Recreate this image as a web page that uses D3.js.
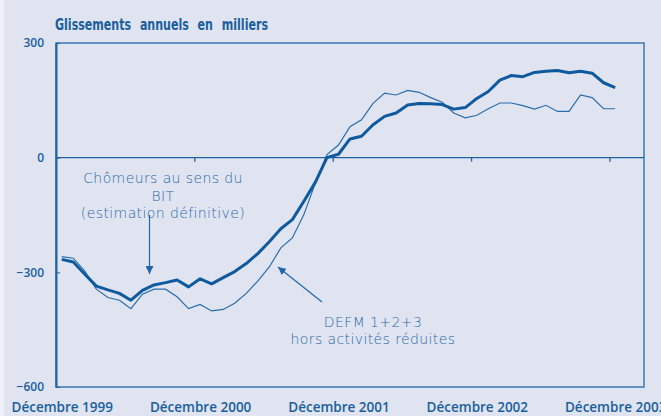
<!DOCTYPE html>
<html>
<head>
<meta charset="utf-8">
<script src="https://cdn.jsdelivr.net/npm/d3@7"></script>
<style>
  body { margin: 0; background: #dfe4f0; }
  svg { display: block; }
</style>
</head>
<body>
<svg id="chart"></svg>
<script>
const width = 661;
const height = 416;
const margin = { top: 43, right: 16, bottom: 28, left: 56 };

// monthly points, Dec 1999 -> Dec 2003
const bit = [-266, -273, -305, -336, -346, -355, -373, -347, -333, -327, -320, -338,
             -317, -330, -314, -298, -277, -251, -220, -186, -162, -114, -64, 0,
             9, 49, 56, 86, 108, 117, 138, 142, 141, 139, 127, 131,
             155, 173, 203, 215, 212, 223, 226, 228, 222, 226, 221, 196, 183];
const defm = [-259, -263, -297, -344, -366, -373, -395, -357, -344, -344, -364, -395,
              -384, -401, -397, -381, -355, -323, -286, -236, -210, -149, -66, 8,
              33, 81, 99, 142, 169, 164, 176, 171, 157, 145, 117, 104,
              111, 128, 143, 143, 136, 127, 137, 121, 121, 164, 157, 128, 128];
const yTicks = [300, 0, -300, -600];
const xLabelIdx = [0, 12, 24, 36, 48];
const xLabels = ["Décembre 1999", "Décembre 2000", "Décembre 2001", "Décembre 2002", "Décembre 2003"];
const xTickIdx = [11.5, 23.5, 35.5, 47.5];

const blue = "#1a5e9e";

const svg = d3.select("#chart")
  .attr("width", width)
  .attr("height", height);

svg.append("rect").attr("width", width).attr("height", height).attr("fill", "#dfe4f0");
svg.append("rect").attr("width", 4).attr("height", height).attr("fill", "#eef1f7");

const innerW = width - margin.left - margin.right;
const innerH = height - margin.top - margin.bottom;

const g = svg.append("g")
  .attr("transform", "translate(" + margin.left + "," + margin.top + ")");

const x = d3.scaleLinear().domain([-0.5, 50.5]).range([0, innerW - 1]);
const y = d3.scaleLinear().domain([-600, 300]).range([innerH - 1, 0]);

// title
svg.append("text")
  .attr("x", 55)
  .attr("y", 30)
  .attr("fill", blue)
  .style("font-family", "'Liberation Sans Narrow', 'DejaVu Sans Condensed', sans-serif")
  .style("font-weight", "bold")
  .style("font-size", "15px")
  .style("word-spacing", "6px")
  .attr("textLength", 213)
  .attr("lengthAdjust", "spacingAndGlyphs")
  .text("Glissements annuels en milliers");

// frame
g.append("rect")
  .attr("x", 0).attr("y", y(300))
  .attr("width", x(50.5)).attr("height", y(-600) - y(300))
  .attr("fill", "none")
  .attr("stroke", "#2366a8")
  .attr("stroke-width", 1.3);

// y axis
const yAxis = d3.axisLeft(y).tickValues(yTicks).tickSizeInner(-4).tickSizeOuter(0).tickPadding(12);
g.append("g")
  .call(yAxis)
  .call(s => s.select(".domain").attr("stroke", "#1f62a6").attr("stroke-width", 2))
  .call(s => s.selectAll(".tick line").attr("stroke", "#1f62a6"))
  .call(s => s.selectAll(".tick text")
    .attr("fill", blue)
    .style("font-family", "'Open Sans', sans-serif")
    .style("font-weight", "600")
    .style("font-size", "12px"));

// zero line + year ticks
g.append("line")
  .attr("x1", 0).attr("x2", x(50.5))
  .attr("y1", y(0)).attr("y2", y(0))
  .attr("stroke", "#1f62a6").attr("stroke-width", 1.3);

g.append("g")
  .attr("transform", "translate(0," + y(0) + ")")
  .call(d3.axisBottom(x).tickValues(xTickIdx).tickSize(4).tickFormat(""))
  .call(s => s.select(".domain").remove())
  .call(s => s.selectAll(".tick line").attr("stroke", "#1f62a6").attr("stroke-width", 1.3));

// bottom labels
g.append("g")
  .attr("transform", "translate(0," + y(-600) + ")")
  .call(d3.axisBottom(x).tickValues(xLabelIdx).tickSize(0).tickPadding(15)
    .tickFormat((d, i) => xLabels[i]))
  .call(s => s.select(".domain").remove())
  .call(s => s.selectAll(".tick text")
    .attr("fill", blue)
    .style("font-family", "'Open Sans', sans-serif")
    .style("font-weight", "600")
    .style("font-size", "13.5px"));

// lines
const line = d3.line().x((d, i) => x(i)).y(d => y(d));

g.append("path")
  .datum(defm)
  .attr("d", line)
  .attr("fill", "none")
  .attr("stroke", "#2b6cab")
  .attr("stroke-width", 1.2);

g.append("path")
  .datum(bit)
  .attr("d", line)
  .attr("fill", "none")
  .attr("stroke", "#0f5a9e")
  .attr("stroke-width", 3)
  .attr("stroke-linejoin", "round");

// annotations
const defs = svg.append("defs");
defs.append("marker")
  .attr("id", "arrow")
  .attr("viewBox", "0 0 10 10")
  .attr("refX", 10).attr("refY", 5)
  .attr("markerWidth", 8).attr("markerHeight", 8)
  .attr("markerUnits", "userSpaceOnUse")
  .attr("orient", "auto")
  .append("path")
  .attr("d", "M0,0 L10,5 L0,10 Z")
  .attr("fill", "#2366a8");

const noteFont = "'DejaVu Sans', sans-serif";
const note1 = ["Chômeurs au sens du", "BIT", "(estimation définitive)"];
svg.append("g").selectAll("text")
  .data(note1)
  .enter()
  .append("text")
  .attr("x", 163)
  .attr("y", (d, i) => 183 + i * 17.5)
  .attr("text-anchor", "middle")
  .attr("fill", "#2a6aaa")
  .style("font-family", noteFont)
  .style("font-weight", "300")
  .style("font-size", "14px")
  .style("letter-spacing", "0.4px")
  .text(d => d);

svg.append("line")
  .attr("x1", 149.5).attr("y1", 215)
  .attr("x2", 149.5).attr("y2", 274)
  .attr("stroke", "#2366a8").attr("stroke-width", 1.2)
  .attr("marker-end", "url(#arrow)");

const note2 = ["DEFM 1+2+3", "hors activités réduites"];
svg.append("g").selectAll("text")
  .data(note2)
  .enter()
  .append("text")
  .attr("x", 373)
  .attr("y", (d, i) => 327 + i * 17)
  .attr("text-anchor", "middle")
  .attr("fill", "#2a6aaa")
  .style("font-family", noteFont)
  .style("font-weight", "300")
  .style("font-size", "14px")
  .style("letter-spacing", "0.4px")
  .text(d => d);

svg.append("line")
  .attr("x1", 322).attr("y1", 302)
  .attr("x2", 278).attr("y2", 267)
  .attr("stroke", "#2366a8").attr("stroke-width", 1.2)
  .attr("marker-end", "url(#arrow)");
</script>
</body>
</html>
